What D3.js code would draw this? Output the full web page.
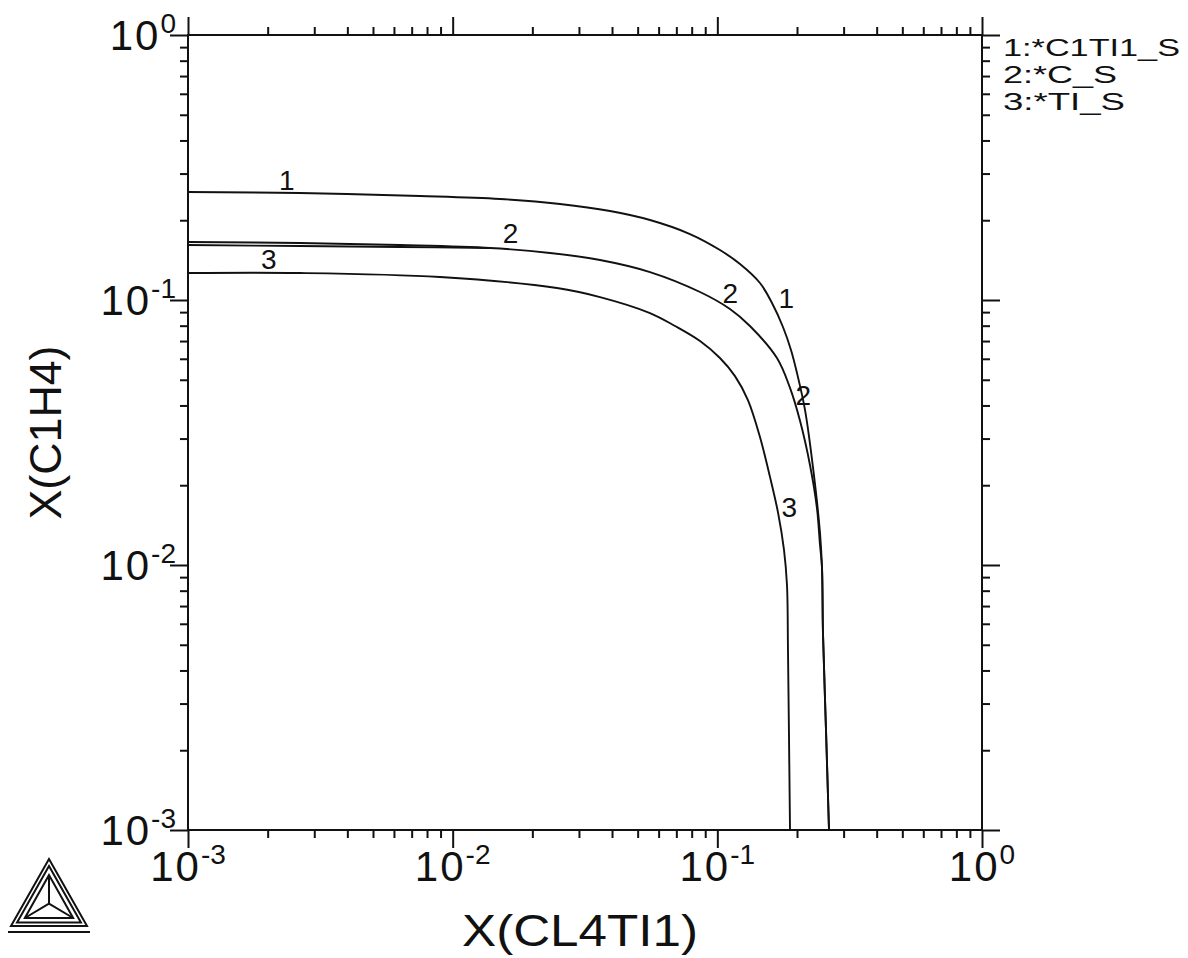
<!DOCTYPE html>
<html>
<head>
<meta charset="utf-8">
<script src="https://cdn.jsdelivr.net/npm/d3@7"></script>
<style>
  html, body { margin: 0; padding: 0; background: #fff; }
  svg { display: block; }
  text { font-family: "Liberation Sans", Arial, Helvetica, sans-serif; fill: #111; }
</style>
</head>
<body>
<svg id="chart" width="1188" height="958"></svg>
<script>
// Axis ranges (mole fractions, log scale)
const xDomain = [1e-3, 1];
const yDomain = [1e-3, 1];
const decadeExponents = [-3, -2, -1, 0];

// Phase boundary curves: X(CL4TI1) vs X(C1H4)
const curve1X = [0.001, 0.002649, 0.007524, 0.01509, 0.02543, 0.0393, 0.05566, 0.07882, 0.1023, 0.1218, 0.1449, 0.1609, 0.177, 0.1898, 0.2, 0.2144, 0.2298, 0.2443, 0.2485, 0.2507, 0.2574, 0.2642];
const curve1Y = [0.2556, 0.2533, 0.2468, 0.2405, 0.2303, 0.2167, 0.2004, 0.1774, 0.1544, 0.1367, 0.1159, 0.0974, 0.0791, 0.0648, 0.0530, 0.0385, 0.0234, 0.0132, 0.00983, 0.00554, 0.00238, 0.001];

const curve2X = [0.001, 0.002649, 0.006324, 0.01384, 0.02332, 0.03603, 0.05566, 0.08602, 0.1116, 0.1328, 0.168, 0.1882, 0.2053, 0.224, 0.2379, 0.2443, 0.2485, 0.2507, 0.2574, 0.2642];
const curve2Y = [0.1655, 0.1641, 0.1612, 0.1571, 0.1505, 0.1416, 0.1275, 0.1072, 0.0925, 0.0798, 0.0604, 0.0466, 0.0350, 0.0238, 0.0164, 0.0119, 0.00983, 0.00554, 0.00238, 0.001];

// second trace running alongside curve 2 at low X(CL4TI1)
const curve2bX = [0.001, 0.002649, 0.006324, 0.01384];
const curve2bY = [0.1612, 0.1599, 0.1585, 0.1571];

const curve3X = [0.001, 0.002649, 0.008956, 0.02478, 0.03603, 0.05566, 0.06918, 0.08602, 0.1023, 0.1166, 0.1305, 0.1449, 0.1581, 0.1695, 0.1786, 0.1833, 0.1849, 0.1882];
const curve3Y = [0.1264, 0.1264, 0.1221, 0.1110, 0.1026, 0.0893, 0.0798, 0.0700, 0.0604, 0.0516, 0.0419, 0.0304, 0.0215, 0.0158, 0.0114, 0.0084, 0.00478, 0.001];

// Curve number labels
const labelText = ["1", "1", "2", "2", "2", "3", "3"];
const labelX = [0.00236, 0.1822, 0.01656, 0.1119, 0.2112, 0.00202, 0.1869];
const labelY = [0.2836, 0.1017, 0.1790, 0.1063, 0.0438, 0.1428, 0.01656];

const legendEntries = ["1:*C1TI1_S", "2:*C_S", "3:*TI_S"];
const xTitle = "X(CL4TI1)";
const yTitle = "X(C1H4)";

const svg = d3.select("#chart");
const ink = "#111";

const x = d3.scaleLog().domain(xDomain).range([188, 982]);
const y = d3.scaleLog().domain(yDomain).range([830, 35]);

// tick values: decades and 2..9 multiples
const majors = decadeExponents.map(e => Math.pow(10, e));
const minors = [];
decadeExponents.slice(0, -1).forEach(e => {
  for (let k = 2; k <= 9; k++) minors.push(k * Math.pow(10, e));
});

function styleAxis(g) {
  g.select(".domain").remove();
  g.selectAll("line").attr("stroke", ink).attr("stroke-width", 2);
  g.selectAll("text").remove();
}

const [x0, x1] = x.range();
const [yb, yt] = y.range();

// minor + major ticks, all pointing outward on every side
svg.append("g").attr("transform", `translate(${x0},0)`)
  .call(d3.axisLeft(y).tickValues(minors).tickSize(8).tickFormat("")).call(styleAxis);
svg.append("g").attr("transform", `translate(${x0},0)`)
  .call(d3.axisLeft(y).tickValues(majors).tickSize(18).tickFormat("")).call(styleAxis);
svg.append("g").attr("transform", `translate(${x1},0)`)
  .call(d3.axisRight(y).tickValues(minors).tickSize(8).tickFormat("")).call(styleAxis);
svg.append("g").attr("transform", `translate(${x1},0)`)
  .call(d3.axisRight(y).tickValues(majors).tickSize(18).tickFormat("")).call(styleAxis);
svg.append("g").attr("transform", `translate(0,${yb})`)
  .call(d3.axisBottom(x).tickValues(minors).tickSize(8).tickFormat("")).call(styleAxis);
svg.append("g").attr("transform", `translate(0,${yb})`)
  .call(d3.axisBottom(x).tickValues(majors).tickSize(18).tickFormat("")).call(styleAxis);
svg.append("g").attr("transform", `translate(0,${yt})`)
  .call(d3.axisTop(x).tickValues(minors).tickSize(8).tickFormat("")).call(styleAxis);
svg.append("g").attr("transform", `translate(0,${yt})`)
  .call(d3.axisTop(x).tickValues(majors).tickSize(18).tickFormat("")).call(styleAxis);

// frame
svg.append("rect")
  .attr("x", x0).attr("y", yt)
  .attr("width", x1 - x0).attr("height", yb - yt)
  .attr("fill", "none").attr("stroke", ink).attr("stroke-width", 2);

// power-of-ten tick labels
function powerLabel(sel, exp) {
  sel.append("tspan").attr("letter-spacing", 2).text("10");
  sel.append("tspan").attr("dy", -17).attr("font-size", 28).text(exp);
}
svg.append("g").selectAll("text").data(decadeExponents).join("text")
  .attr("x", 176)
  .attr("y", d => y(Math.pow(10, d)) + 15)
  .attr("text-anchor", "end")
  .attr("font-size", 42)
  .each(function (d) { powerLabel(d3.select(this), d); });
svg.append("g").selectAll("text").data(decadeExponents).join("text")
  .attr("x", d => x(Math.pow(10, d)))
  .attr("y", 881)
  .attr("text-anchor", "middle")
  .attr("font-size", 42)
  .each(function (d) { powerLabel(d3.select(this), d); });

// curves
const path = d3.line().x(d => x(d[0])).y(d => y(d[1])).curve(d3.curveCatmullRom.alpha(0.5));
const series = [
  d3.zip(curve1X, curve1Y),
  d3.zip(curve2X, curve2Y),
  d3.zip(curve2bX, curve2bY),
  d3.zip(curve3X, curve3Y)
];
svg.append("g").selectAll("path").data(series).join("path")
  .attr("d", d => path(d))
  .attr("fill", "none")
  .attr("stroke", ink)
  .attr("stroke-width", 1.9);

// curve labels
svg.append("g").selectAll("text").data(labelText).join("text")
  .attr("x", (d, i) => x(labelX[i]))
  .attr("y", (d, i) => y(labelY[i]) + 10)
  .attr("text-anchor", "middle")
  .attr("font-size", 28)
  .text(d => d);

// legend
const legendWidths = [177, 114, 122];
svg.append("g").selectAll("text").data(legendEntries).join("text")
  .attr("x", 1003)
  .attr("y", (d, i) => 56 + i * 27)
  .attr("font-size", 24)
  .attr("textLength", (d, i) => legendWidths[i])
  .attr("lengthAdjust", "spacingAndGlyphs")
  .text(d => d);

// axis titles
svg.append("text")
  .attr("x", x(Math.sqrt(xDomain[0] * xDomain[1])) - 5)
  .attr("y", 946)
  .attr("text-anchor", "middle")
  .attr("font-size", 44)
  .attr("textLength", 236)
  .attr("lengthAdjust", "spacingAndGlyphs")
  .text(xTitle);
svg.append("text")
  .attr("transform", `translate(61, ${y(Math.sqrt(yDomain[0] * yDomain[1]))}) rotate(-90)`)
  .attr("text-anchor", "middle")
  .attr("font-size", 44)
  .attr("textLength", 174)
  .attr("lengthAdjust", "spacingAndGlyphs")
  .text(yTitle);

// triangle emblem, lower left corner
(function drawEmblem() {
  const cx = 49, top = 859, base = 926, half = 38;
  const g = svg.append("g").attr("fill", "none").attr("stroke", ink).attr("stroke-width", 2);
  const tri = (inset) => {
    const t = top + inset * 2, b = base - inset, h = half - inset * 1.73;
    return [[cx, t], [cx - h, b], [cx + h, b]];
  };
  const outer = tri(0), mid = tri(3.5), inner = tri(8);
  [outer, mid, inner].forEach(p => g.append("path").attr("d", d3.line()(p) + "Z"));
  const cy = (inner[0][1] + inner[1][1] * 2) / 3;
  inner.forEach(p => g.append("line").attr("x1", cx).attr("y1", cy).attr("x2", p[0]).attr("y2", p[1]));
  g.append("line").attr("x1", 8).attr("x2", 90).attr("y1", 932).attr("y2", 932).attr("stroke-width", 2.2);
})();
</script>
</body>
</html>
